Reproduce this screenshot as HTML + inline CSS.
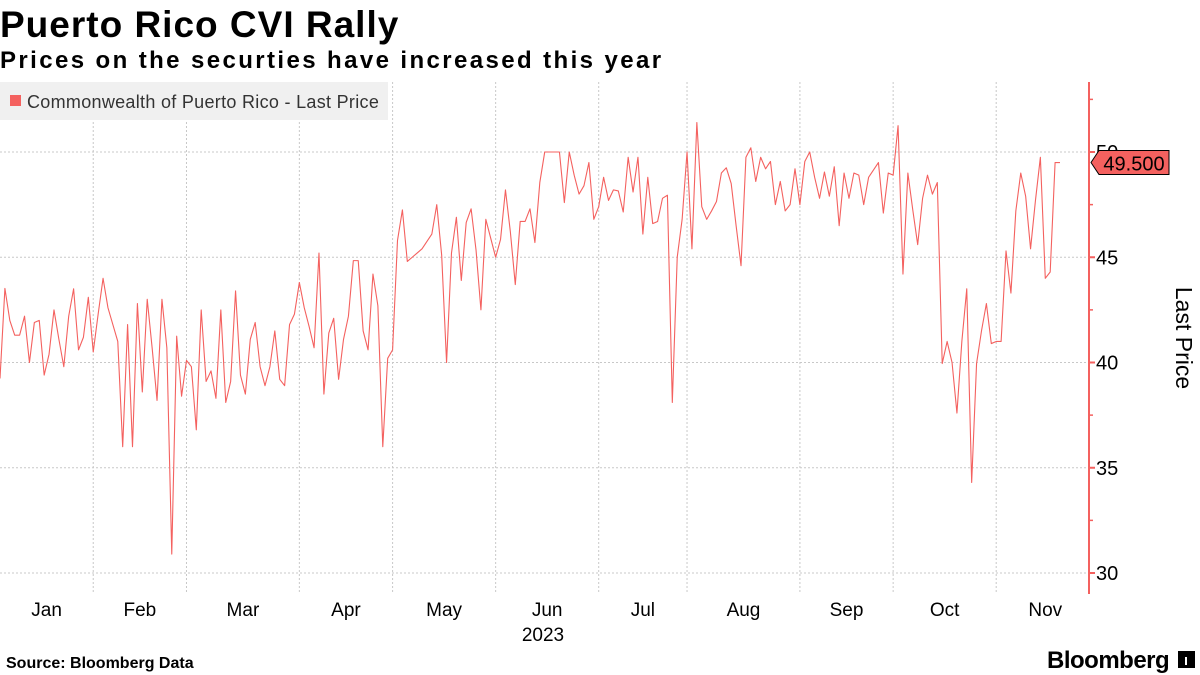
<!DOCTYPE html>
<html><head><meta charset="utf-8">
<style>
body{margin:0;background:#fff;width:1200px;height:675px;overflow:hidden;font-family:"Liberation Sans",sans-serif;}
svg{position:absolute;left:0;top:0;}
</style></head>
<body>
<svg id="chart" width="1200" height="675" viewBox="0 0 1200 675">
  <text x="0" y="37" font-family="Liberation Sans, sans-serif" font-weight="bold" font-size="37" letter-spacing="1" fill="#000">Puerto Rico CVI Rally</text>
  <text x="0" y="68" font-family="Liberation Sans, sans-serif" font-weight="bold" font-size="24" letter-spacing="2.4" fill="#000">Prices on the securties have increased this year</text>
  <g id="grid"></g>
  <g id="series"></g>
  <g>
    <rect x="0" y="82" width="388" height="38" fill="#f0f0f0"/>
    <rect x="10" y="95" width="11" height="11" fill="#f4615f"/>
    <text x="27" y="108" font-size="18" letter-spacing="0.3" fill="#333">Commonwealth of Puerto Rico - Last Price</text>
  </g>
  <g id="yaxis"></g>
  <g id="xaxis"></g>
  <text transform="translate(1176,338) rotate(90)" text-anchor="middle" font-size="23" fill="#000">Last Price</text>
  <text x="543" y="641" text-anchor="middle" font-size="19" fill="#000">2023</text>
  <text x="6" y="668" font-weight="bold" font-size="16" fill="#000">Source: Bloomberg Data</text>
  <text x="1047" y="668" font-weight="bold" font-size="24" fill="#000" letter-spacing="-0.5">Bloomberg</text>
  <rect x="1178" y="651" width="17" height="17" fill="#000"/>
  <rect x="1185" y="657" width="2" height="8" fill="#fff"/>
</svg>
<script>
const values = [39.24,43.52,42.0,41.3,41.3,42.2,40.0,41.9,42.0,39.4,40.4,42.5,41.1,39.8,42.2,43.5,40.6,41.2,43.1,40.5,
42.3,44.0,42.6,41.8,41.0,36.0,41.8,36.0,42.8,38.6,43.0,40.7,38.2,43.0,40.7,30.9,41.25,38.4,40.1,39.8,
36.8,42.5,39.1,39.6,38.3,42.5,38.1,39.1,43.4,39.4,38.5,41.1,41.9,39.8,38.9,39.8,41.5,39.2,38.9,41.8,
42.3,43.8,42.6,41.7,40.7,45.2,38.5,41.4,42.1,39.2,41.1,42.2,44.84,44.84,41.5,40.6,44.2,42.7,36.0,40.2,
40.6,45.8,47.25,44.8,45.0,45.2,45.4,45.75,46.1,47.5,45.1,40.0,45.2,46.9,43.9,46.65,47.3,45.35,42.5,46.8,
45.9,45.0,45.85,48.2,46.2,43.7,46.7,46.7,47.3,45.7,48.55,50,50,50,50,47.6,50,48.9,48.0,48.4,
49.5,46.8,47.4,48.8,47.7,48.2,48.15,47.15,49.75,48.1,49.75,46.1,48.8,46.6,46.7,47.8,47.95,38.1,45.0,46.8,
50,45.4,51.4,47.4,46.8,47.2,47.65,49.0,49.25,48.5,46.5,44.6,49.75,50.2,48.6,49.75,49.2,49.55,47.5,48.6,
47.2,47.5,49.2,47.5,49.55,50,48.8,47.8,49.05,47.9,49.3,46.5,49.0,47.8,49.0,48.9,47.5,48.8,49.15,49.5,
47.1,49.0,48.9,51.25,44.2,49.0,47.25,45.6,47.8,48.9,48.0,48.55,39.95,41.0,40.0,37.6,41.0,43.5,34.3,39.95,
41.5,42.8,40.9,41.0,41.0,45.3,43.3,47.2,49.0,47.9,45.4,47.7,49.75,44.0,44.3,49.5,49.5];
const monthLabels = ["Jan","Feb","Mar","Apr","May","Jun","Jul","Aug","Sep","Oct","Nov"];
const monthStarts = [0,19,38,61,80,101,122,140,163,182,203];
const yTicks = [30,35,40,45,50];
const yMinorTicks = [32.5,37.5,42.5,47.5,52.5];
const lastValue = 49.5;

const NS="http://www.w3.org/2000/svg";
const PL=0, PR=1089, PT=82, PB=594;
const step = 1060/216;
function xs(i){return PL + i*step;}
function ys(v){return 152 + (50 - v)*21.05;}
function mk(tag, attrs, parent){const e=document.createElementNS(NS,tag);for(const k in attrs)e.setAttribute(k,attrs[k]);parent.appendChild(e);return e;}

const grid=document.getElementById('grid');
yTicks.forEach(t=>{
  const l=mk('line',{x1:PL,x2:PR,y1:ys(t),y2:ys(t),stroke:'#c8c8c8','stroke-dasharray':'2,2','stroke-width':1},grid);
  
  
});
monthStarts.forEach((m,k)=>{
  if(k===0) return;
  const l=mk('line',{x1:xs(m),x2:xs(m),y1:PT,y2:PB,stroke:'#c8c8c8','stroke-dasharray':'2,2','stroke-width':1},grid);
  
  
});

const series=document.getElementById('series');
const pts=values.map((v,i)=>xs(i).toFixed(2)+','+ys(v).toFixed(2)).join(' ');
const line=mk('polyline',{points:pts,fill:'none',stroke:'#f4615f','stroke-width':1.1,'stroke-linejoin':'round'},series);



const yaxis=document.getElementById('yaxis');
const al=mk('line',{x1:PR,x2:PR,y1:PT,y2:PB,stroke:'#f4615f','stroke-width':2},yaxis);


yTicks.forEach(t=>{
  const tk=mk('line',{x1:PR,x2:PR+6,y1:ys(t),y2:ys(t),stroke:'#f4615f','stroke-width':2},yaxis);
  
  
  const tx=mk('text',{x:PR+7,y:ys(t)+7,'font-size':20,fill:'#000'},yaxis);
  tx.textContent=t;
  
  
});
yMinorTicks.forEach(t=>{
  const tk=mk('line',{x1:PR,x2:PR+4,y1:ys(t),y2:ys(t),stroke:'#f4615f','stroke-width':1.5},yaxis);
  
  
});
const yl=ys(lastValue);
const badge=mk('polygon',{points:`${PR+2},${yl} ${PR+10},${yl-12} ${PR+80},${yl-12} ${PR+80},${yl+12} ${PR+10},${yl+12}`,fill:'#f4615f',stroke:'#000','stroke-width':1},yaxis);


const bt=mk('text',{x:PR+45,y:yl+8,'text-anchor':'middle','font-size':20,fill:'#000'},yaxis);
bt.textContent=lastValue.toFixed(3);



const xaxis=document.getElementById('xaxis');
monthLabels.forEach((m,k)=>{
  const a=monthStarts[k], b=(k+1<monthStarts.length)?monthStarts[k+1]:monthStarts[k]+20;
  const tx=mk('text',{x:xs((a+b)/2),y:616,'text-anchor':'middle','font-size':19,fill:'#000'},xaxis);
  tx.textContent=m;
  
  
});
</script>
</body></html>
